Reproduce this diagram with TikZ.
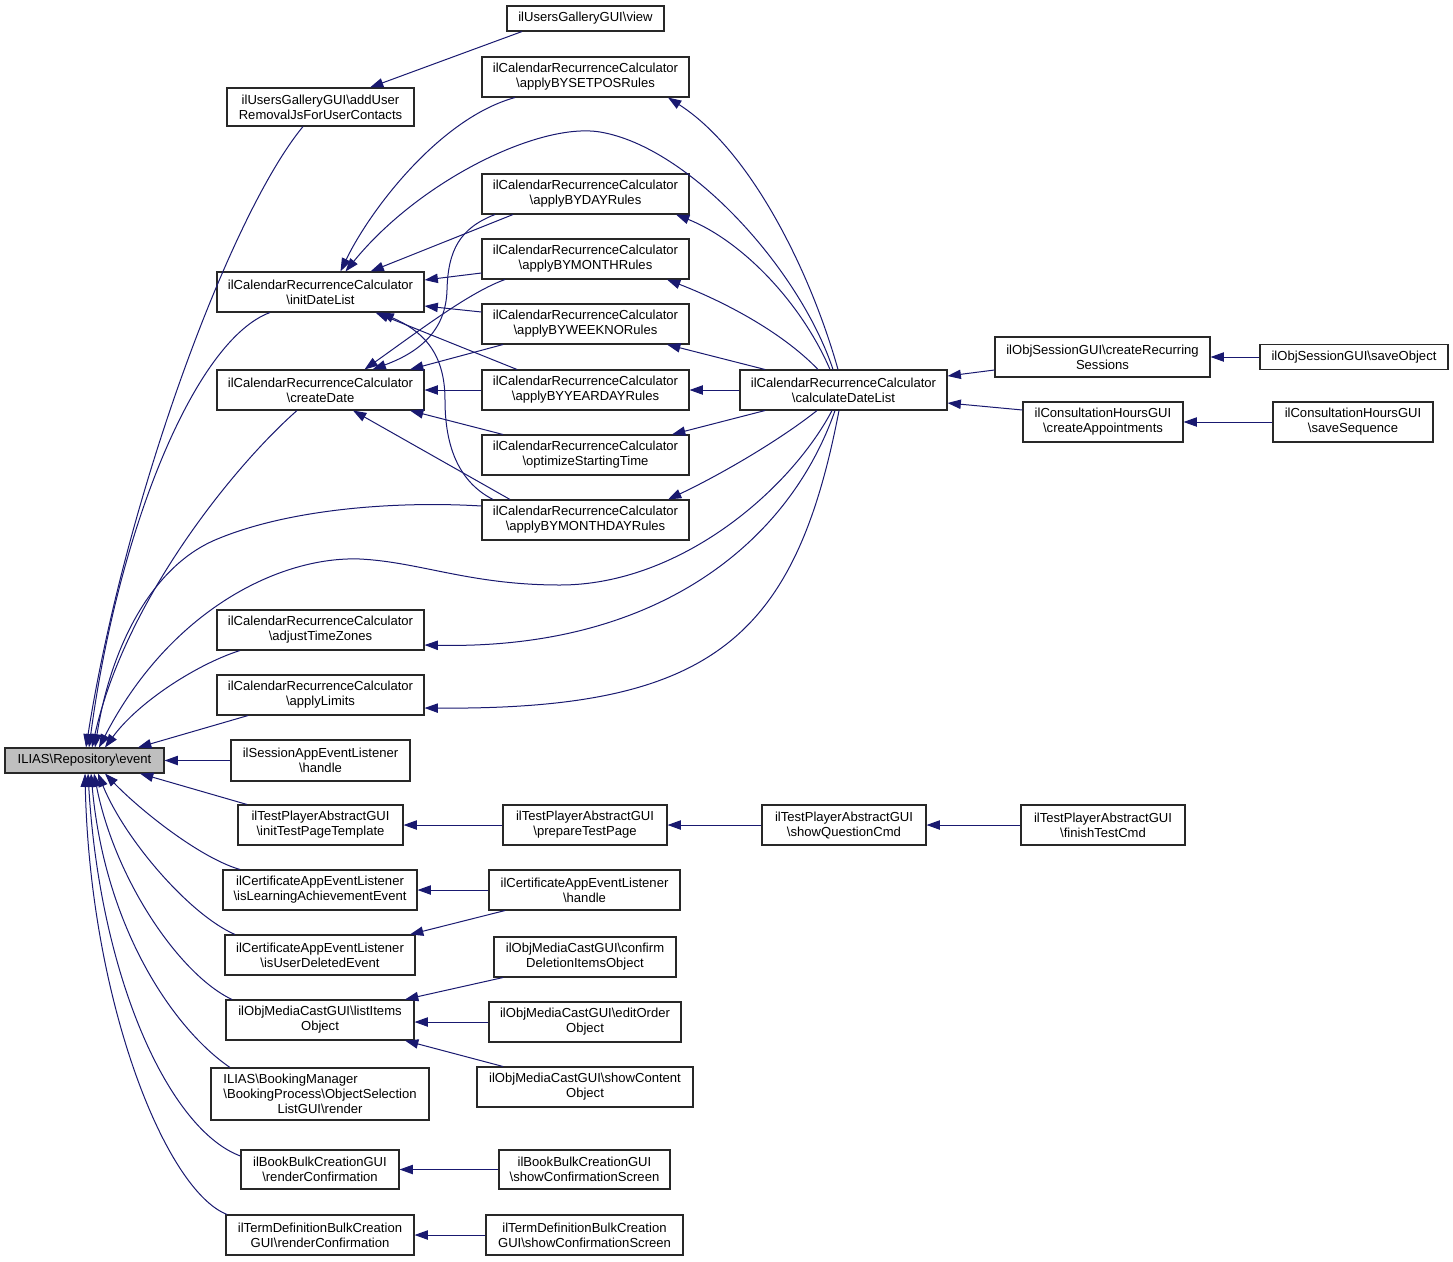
\documentclass[tikz,border=0pt]{standalone}
\usepackage{fontspec}
\setmainfont{Liberation Sans}
\usetikzlibrary{arrows.meta,calc}
\newdimen\pxu \pxu=0.75pt
\newcommand\myBS{\textbackslash}
\definecolor{edgeblue}{RGB}{25,25,112}
\definecolor{rootgray}{RGB}{191,191,191}
\definecolor{boxline}{RGB}{40,40,40}
\tikzset{
 box/.style={draw=boxline, line width=0.8pt, fill=white, inner sep=0pt, align=center,
   font=\fontsize{9.8}{11.25}\selectfont},
 sz/.style 2 args={minimum width=#1\pxu, minimum height=#2\pxu},
 e/.style={draw=edgeblue, line width=0.75pt, -{Triangle[length=10pt,width=7pt]}}
}
\begin{document}
\begin{tikzpicture}[x=0.75pt,y=-0.75pt]
\fill[white] (0,0) rectangle (1453,1261);
\useasboundingbox (0,0) rectangle (1453,1261);
% nodes
\node[box,fill=rootgray,sz={159}{25}] (event) at (84.5,760.5) {ILIAS\myBS Repository\myBS event};
\node[box,sz={187}{38}] (adduser) at (320.5,107) {ilUsersGalleryGUI\myBS addUser\\RemovalJsForUserContacts};
\node[box,sz={157}{25}] (view) at (585.5,18.5) {ilUsersGalleryGUI\myBS view};
\node[box,sz={207}{40}] (init) at (320.5,292) {ilCalendarRecurrenceCalculator\\\myBS initDateList};
\node[box,sz={207}{40}] (cdate) at (320.5,390) {ilCalendarRecurrenceCalculator\\\myBS createDate};
\node[box,sz={207}{40}] (setpos) at (585.5,77) {ilCalendarRecurrenceCalculator\\\myBS applyBYSETPOSRules};
\node[box,sz={207}{40}] (byday) at (585.5,194) {ilCalendarRecurrenceCalculator\\\myBS applyBYDAYRules};
\node[box,sz={207}{40}] (bymonth) at (585.5,259) {ilCalendarRecurrenceCalculator\\\myBS applyBYMONTHRules};
\node[box,sz={207}{40}] (byweek) at (585.5,324) {ilCalendarRecurrenceCalculator\\\myBS applyBYWEEKNORules};
\node[box,sz={207}{40}] (byyear) at (585.5,390) {ilCalendarRecurrenceCalculator\\\myBS applyBYYEARDAYRules};
\node[box,sz={207}{40}] (optim) at (585.5,455) {ilCalendarRecurrenceCalculator\\\myBS optimizeStartingTime};
\node[box,sz={207}{40}] (bymday) at (585.5,520) {ilCalendarRecurrenceCalculator\\\myBS applyBYMONTHDAYRules};
\node[box,sz={207}{40}] (calc) at (843.5,390) {ilCalendarRecurrenceCalculator\\\myBS calculateDateList};
\node[box,sz={215}{40}] (crecur) at (1102.5,357) {ilObjSessionGUI\myBS createRecurring\\Sessions};
\node[box,sz={188}{25}] (saveobj) at (1354,357) {ilObjSessionGUI\myBS saveObject};
\node[box,sz={160}{40}] (cappt) at (1103,422) {ilConsultationHoursGUI\\\myBS createAppointments};
\node[box,sz={160}{40}] (saveseq) at (1353,422) {ilConsultationHoursGUI\\\myBS saveSequence};
\node[box,sz={207}{40}] (adjtz) at (320.5,630) {ilCalendarRecurrenceCalculator\\\myBS adjustTimeZones};
\node[box,sz={207}{40}] (applim) at (320.5,695) {ilCalendarRecurrenceCalculator\\\myBS applyLimits};
\node[box,sz={179}{41}] (shandle) at (320.5,760.5) {ilSessionAppEventListener\\\myBS handle};
\node[box,sz={165}{40}] (itpt) at (320.5,825) {ilTestPlayerAbstractGUI\\\myBS initTestPageTemplate};
\node[box,sz={164}{40}] (ptp) at (585,825) {ilTestPlayerAbstractGUI\\\myBS prepareTestPage};
\node[box,sz={164}{40}] (sqc) at (844,825) {ilTestPlayerAbstractGUI\\\myBS showQuestionCmd};
\node[box,sz={164}{40}] (ftc) at (1103,825) {ilTestPlayerAbstractGUI\\\myBS finishTestCmd};
\node[box,sz={194}{40}] (isla) at (320,890) {ilCertificateAppEventListener\\\myBS isLearningAchievementEvent};
\node[box,sz={191}{40}] (chandle) at (584.5,890) {ilCertificateAppEventListener\\\myBS handle};
\node[box,sz={190}{40}] (isud) at (320,955) {ilCertificateAppEventListener\\\myBS isUserDeletedEvent};
\node[box,sz={182}{40}] (cdel) at (585,957) {ilObjMediaCastGUI\myBS confirm\\DeletionItemsObject};
\node[box,sz={188}{40}] (lio) at (320,1020) {ilObjMediaCastGUI\myBS listItems\\Object};
\node[box,sz={192}{40}] (eoo) at (585,1022) {ilObjMediaCastGUI\myBS editOrder\\Object};
\node[box,sz={216}{40}] (sco) at (585,1087) {ilObjMediaCastGUI\myBS showContent\\Object};
\node[box,sz={218}{52}] (book) at (320,1094) {\makebox[0pt][l]{ILIAS\myBS BookingManager}\hphantom{\myBS BookingProcess\myBS ObjectSelection}\\\myBS BookingProcess\myBS ObjectSelection\\ListGUI\myBS render};
\node[box,sz={158}{39}] (rconf) at (320,1169.5) {ilBookBulkCreationGUI\\\myBS renderConfirmation};
\node[box,sz={171}{39}] (sconf) at (584.5,1169.5) {ilBookBulkCreationGUI\\\myBS showConfirmationScreen};
\node[box,sz={188}{40}] (tdr) at (320,1235) {ilTermDefinitionBulkCreation\\GUI\myBS renderConfirmation};
\node[box,sz={197}{40}] (tds) at (584.5,1235) {ilTermDefinitionBulkCreation\\GUI\myBS showConfirmationScreen};
% edges into event
\draw[e] ($(view.south)+(-63.5,0)$) -- ($(adduser.north)+(49.5,0)$);
\draw[e] ($(adduser.south)+(-17.5,0)$) .. controls (230,215) and (125,500) .. ($(event.north)+(1.5,0)$);
\draw[e] ($(init.south)+(-50.5,0)$) .. controls (195,340) and (118,530) .. ($(event.north)+(4.5,0)$);
\draw[e] ($(cdate.south)+(-23.5,0)$) .. controls (235,465) and (125,600) .. ($(event.north)+(7.5,0)$);
\draw[e] ($(bymday.west)+(0,-14)$) .. controls (400,501) and (290,508) .. (215,540) .. controls (150,568) and (110,650) .. ($(event.north)+(10.5,0)$);
\draw[e] ($(calc.south)+(-11.5,0)$) .. controls (790,490) and (680,585) .. (560,585) .. controls (470,585) and (420,562) .. (360,559) .. controls (280,556) and (170,610) .. ($(event.north)+(14.5,0)$);
\draw[e] ($(adjtz.south)+(-80.5,0)$) .. controls (200,663) and (140,700) .. ($(event.north)+(20.5,0)$);
\draw[e] ($(applim.south)+(-72.5,0)$) -- ($(event.north)+(53.5,0)$);
\draw[e] (shandle.west) -- (event.east);
\draw[e] ($(itpt.north)+(-73.5,0)$) -- ($(event.south)+(55.5,0)$);
\draw[e] ($(isla.north)+(-80,0)$) .. controls (200,858) and (140,810) .. ($(event.south)+(20.5,0)$);
\draw[e] ($(isud.north)+(-85,0)$) .. controls (190,915) and (125,840) .. ($(event.south)+(13.5,0)$);
\draw[e] ($(lio.north)+(-88,0)$) .. controls (180,975) and (115,880) .. ($(event.south)+(9.5,0)$);
\draw[e] ($(book.north)+(-90,0)$) .. controls (175,1030) and (105,930) .. ($(event.south)+(6.5,0)$);
\draw[e] ($(rconf.west)+(0,-13.5)$) .. controls (170,1130) and (100,980) .. ($(event.south)+(3.5,0)$);
\draw[e] ($(tdr.north)+(-93,0)$) .. controls (165,1190) and (90,1000) .. ($(event.south)+(0.5,0)$);
% edges into initDateList / createDate
\draw[e] ($(setpos.south)+(-70.5,0)$) .. controls (440,118) and (370,210) .. ($(init.north)+(20,0)$);
\draw[e] ($(calc.north)+(-10.5,0)$) .. controls (800,270) and (690,147) .. (600,132) .. controls (540,122) and (420,180) .. ($(init.north)+(25,0)$);
\draw[e] ($(byday.south)+(-72.5,0)$) -- ($(init.north)+(50,0)$);
\draw[e] ($(bymonth.west)+(0,14)$) -- ($(init.east)+(0,-12)$);
\draw[e] ($(byweek.west)+(0,-12)$) -- ($(init.east)+(0,14)$);
\draw[e] ($(byyear.north)+(-68.5,0)$) -- ($(init.south)+(55,0)$);
\draw[e] ($(bymday.north)+(-92.5,0)$) .. controls (455,480) and (445,440) .. (445,400) .. controls (445,350) and (420,330) .. ($(init.south)+(60,0)$);
\draw[e] ($(byday.south)+(-90.5,0)$) .. controls (460,228) and (448,250) .. (447,290) .. controls (446,330) and (420,352) .. ($(cdate.north)+(52,0)$);
\draw[e] ($(bymonth.south)+(-80.5,0)$) .. controls (470,292) and (420,330) .. ($(cdate.north)+(44,0)$);
\draw[e] ($(byweek.south)+(-82.5,0)$) -- ($(cdate.north)+(89.5,0)$);
\draw[e] (byyear.west) -- (cdate.east);
\draw[e] ($(optim.north)+(-82.5,0)$) -- ($(cdate.south)+(89.5,0)$);
\draw[e] ($(bymday.north)+(-75.5,0)$) -- ($(cdate.south)+(32.5,0)$);
% edges from calculateDateList
\draw[e] ($(calc.north)+(-5.5,0)$) .. controls (810,270) and (750,150) .. ($(setpos.south)+(82.5,0)$);
\draw[e] ($(calc.north)+(-13.5,0)$) .. controls (800,300) and (740,240) .. ($(byday.south)+(90.5,0)$);
\draw[e] ($(calc.north)+(-25.5,0)$) .. controls (780,330) and (720,300) .. ($(bymonth.south)+(81.5,0)$);
\draw[e] ($(calc.north)+(-78.5,0)$) -- ($(byweek.south)+(81.5,0)$);
\draw[e] (calc.west) -- (byyear.east);
\draw[e] ($(calc.south)+(-78.5,0)$) -- ($(optim.north)+(86.5,0)$);
\draw[e] ($(calc.south)+(-26.5,0)$) .. controls (780,440) and (720,475) .. ($(bymday.north)+(82.5,0)$);
\draw[e] ($(calc.south)+(-8.5,0)$) .. controls (790,540) and (660,650) .. ($(adjtz.east)+(0,15)$);
\draw[e] ($(calc.south)+(-4.5,0)$) .. controls (795,640) and (710,710) .. ($(applim.east)+(0,13)$);
\draw[e] ($(crecur.west)+(0,13)$) -- ($(calc.east)+(0,-14)$);
\draw[e] ($(cappt.west)+(0,-12)$) -- ($(calc.east)+(0,13)$);
\draw[e] (saveobj.west) -- (crecur.east);
\draw[e] (saveseq.west) -- (cappt.east);
% lower chains
\draw[e] (ptp.west) -- (itpt.east);
\draw[e] (sqc.west) -- (ptp.east);
\draw[e] (ftc.west) -- (sqc.east);
\draw[e] (chandle.west) -- (isla.east);
\draw[e] ($(chandle.south)+(-79.5,0)$) -- ($(isud.north)+(90,0)$);
\draw[e] ($(cdel.south)+(-82,0)$) -- ($(lio.north)+(85,0)$);
\draw[e] (eoo.west) -- (eoo.west -| lio.east);
\draw[e] ($(sco.north)+(-82,0)$) -- ($(lio.south)+(85,0)$);
\draw[e] (sconf.west) -- (rconf.east);
\draw[e] (tds.west) -- (tdr.east);
\end{tikzpicture}
\end{document}
